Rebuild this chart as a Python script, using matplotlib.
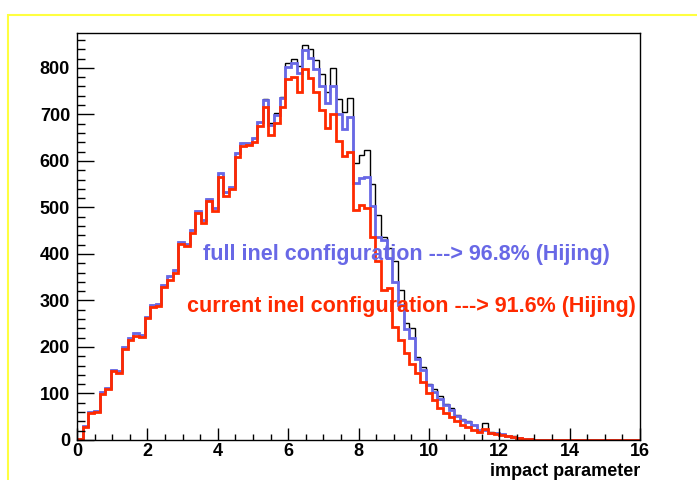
import numpy as np
import matplotlib
matplotlib.use("Agg")
import matplotlib.pyplot as plt
from matplotlib.ticker import MultipleLocator
from matplotlib.patches import Rectangle

# impact parameter histograms, 100 bins from 0 to 16
edges = np.linspace(0, 16, 101)

all_inel = [3, 30, 61, 63, 103, 111, 151, 148, 199, 220,
            230, 225, 265, 290, 292, 334, 352, 366, 425, 422,
            452, 493, 474, 518, 498, 573, 534, 544, 616, 638,
            638, 649, 683, 733, 681, 702, 737, 810, 819, 803,
            849, 840, 817, 786, 749, 799, 733, 706, 736, 595,
            613, 624, 550, 483, 436, 412, 384, 323, 252, 240,
            178, 158, 120, 109, 95, 78, 68, 54, 45, 40,
            33, 18, 36, 17, 15, 12, 9, 8, 4, 3,
            2, 1, 0, 0, 0, 0, 0, 0, 0, 0,
            0, 0, 0, 0, 0, 0, 0, 0, 0, 0]

full_inel = [3, 30, 61, 63, 103, 111, 151, 148, 199, 220,
             230, 225, 265, 290, 292, 334, 352, 366, 425, 422,
             452, 493, 474, 518, 498, 573, 534, 544, 616, 638,
             638, 649, 683, 731, 677, 699, 735, 801, 810, 790,
             839, 821, 797, 761, 724, 761, 700, 668, 694, 553,
             563, 566, 503, 437, 430, 391, 340, 290, 238, 219,
             174, 151, 118, 103, 88, 75, 64, 52, 44, 38,
             32, 22, 21, 16, 14, 12, 9, 7, 4, 3,
             2, 1, 0, 0, 0, 0, 0, 0, 0, 0,
             0, 0, 0, 0, 0, 0, 0, 0, 0, 0]

current_inel = [3, 28, 59, 61, 98, 109, 148, 145, 196, 215,
                224, 222, 262, 287, 288, 330, 344, 360, 421, 418,
                444, 487, 467, 514, 492, 566, 525, 540, 609, 632,
                634, 641, 674, 715, 656, 682, 715, 777, 780, 748,
                797, 779, 749, 710, 670, 700, 642, 611, 619, 495,
                505, 498, 436, 384, 323, 327, 242, 216, 187, 163,
                145, 125, 100, 85, 68, 58, 50, 40, 33, 27,
                22, 18, 23, 15, 13, 10, 8, 6, 5, 3,
                2, 1, 0, 0, 0, 0, 0, 0, 0, 0,
                0, 0, 0, 0, 0, 0, 0, 0, 0, 0]

blue = "#6868e6"
red = "#ff2a00"
font = "Liberation Sans"

fig = plt.figure(figsize=(6.97, 4.80), dpi=100)
ax = fig.add_axes([77 / 697, 1 - 440 / 480, (640 - 77) / 697, (440 - 33) / 480])

ax.stairs(all_inel, edges, color="black", lw=1.0)
ax.stairs(full_inel, edges, color=blue, lw=2.0)
ax.stairs(current_inel, edges, color=red, lw=2.0)

ax.set_xlim(0, 16)
ax.set_ylim(0, 875)

ax.xaxis.set_major_locator(MultipleLocator(2))
ax.xaxis.set_minor_locator(MultipleLocator(0.5))
ax.yaxis.set_major_locator(MultipleLocator(100))
ax.yaxis.set_minor_locator(MultipleLocator(20))

ax.tick_params(axis="y", which="major", direction="in", length=12, width=1, pad=5)
ax.tick_params(axis="y", which="minor", direction="in", length=6, width=1)
ax.tick_params(axis="x", which="major", direction="in", length=8.5, width=1, pad=2)
ax.tick_params(axis="x", which="minor", direction="in", length=4.3, width=1)
ax.tick_params(top=False, right=False, which="both")

for lab in ax.get_xticklabels() + ax.get_yticklabels():
    lab.set_fontfamily(font)
    lab.set_fontweight("bold")
    lab.set_fontsize(13)

for s in ax.spines.values():
    s.set_linewidth(1.0)

ax.text(3.58, 398, "full inel configuration ---> 96.8% (Hijing)", color=blue,
        fontsize=15.5, fontweight="bold", family=font, va="center", ha="left")
ax.text(3.125, 288, "current inel configuration ---> 91.6% (Hijing)", color=red,
        fontsize=15.5, fontweight="bold", family=font, va="center", ha="left")

fig.text(640 / 697, 1 - 471 / 480, "impact parameter", fontsize=13,
         fontweight="bold", family=font, ha="right", va="center")

# yellow canvas border
fig.patches.append(Rectangle((7.5 / 697, -0.1), 1.2, 1 - 15 / 480 + 0.1,
                             transform=fig.transFigure, fill=False,
                             edgecolor="#ffff40", lw=1.5))

fig.savefig("out.png", dpi=100)
